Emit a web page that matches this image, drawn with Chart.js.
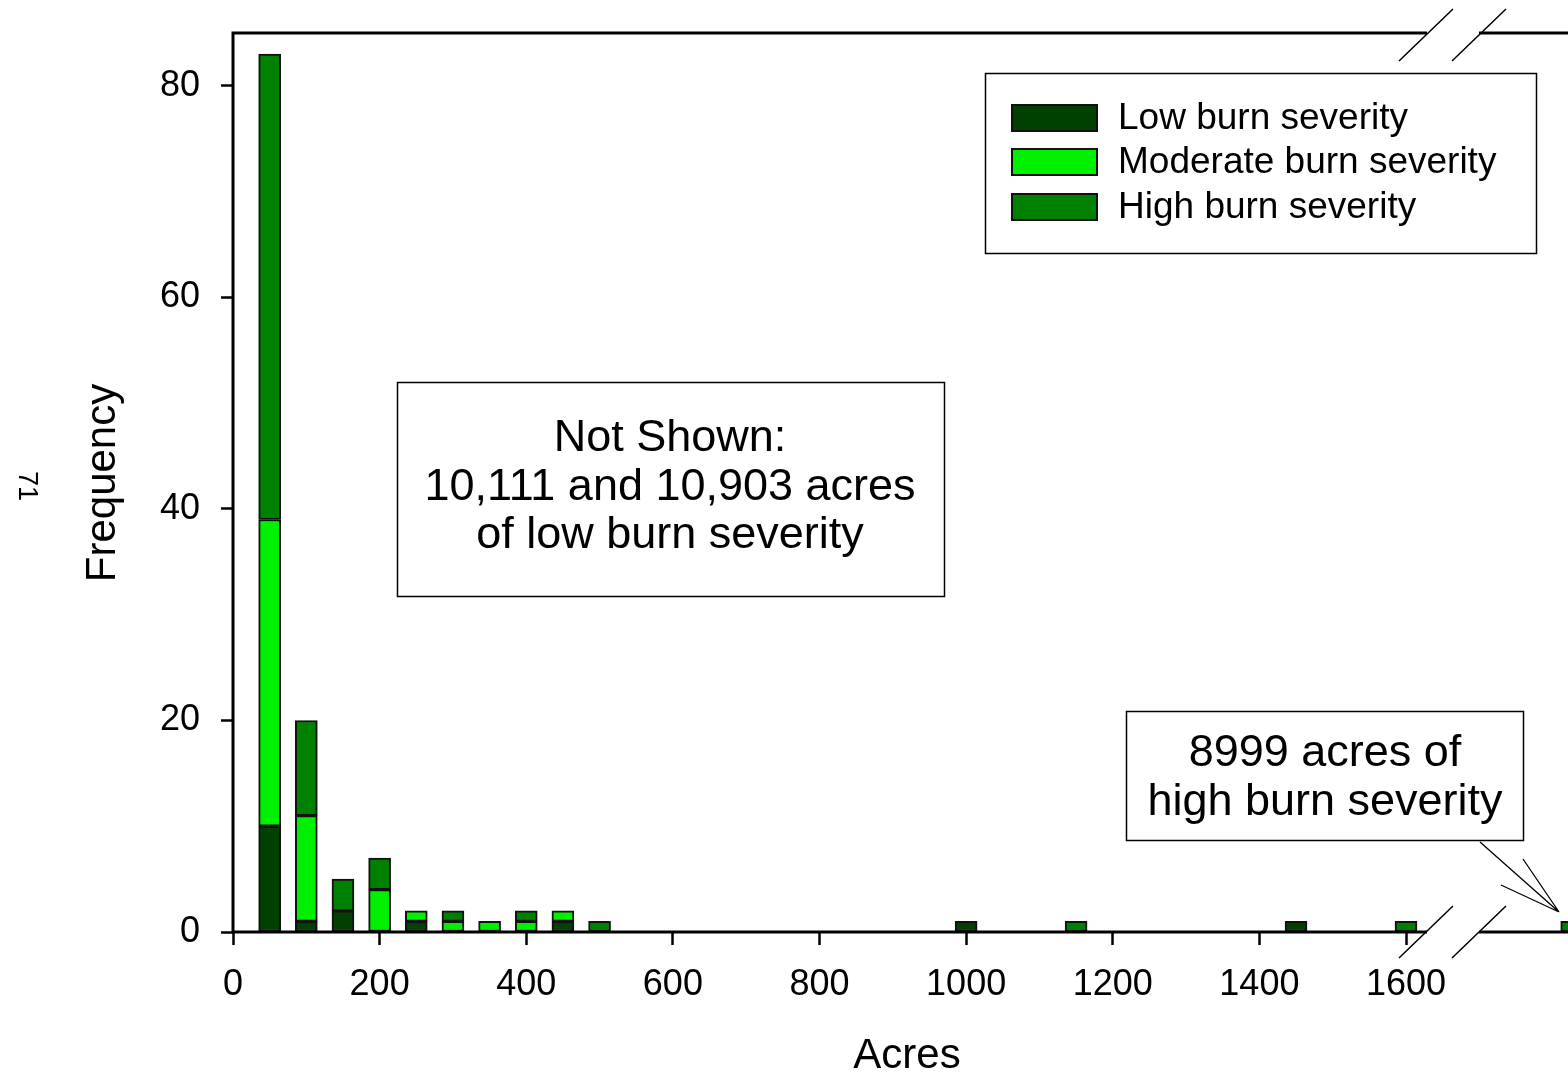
<!DOCTYPE html>
<html>
<head>
<meta charset="utf-8">
<script src="https://cdn.jsdelivr.net/npm/chart.js@4.4.1/dist/chart.umd.min.js"></script>
<style>
  html, body { margin: 0; padding: 0; background: #fff; overflow: hidden; }
  #wrap { width: 1600px; height: 1076px; }
</style>
</head>
<body>
<div id="wrap"><canvas id="burnChart"></canvas></div>
<script>
// bin centres (acres) and counts per severity class
const acreBins = [50, 100, 150, 200, 250, 300, 350, 400, 450, 500, 1000, 1150, 1450, 1600, 8999];
const lowCounts      = [10, 1, 2, 0, 1, 0, 0, 0, 1, 0, 1, 0, 1, 0, 0];
const moderateCounts = [29, 10, 0, 4, 1, 1, 1, 1, 1, 0, 0, 0, 0, 0, 0];
const highCounts     = [44, 9, 3, 3, 0, 1, 0, 1, 0, 1, 0, 1, 0, 1, 1];
const xTickValues = [0, 200, 400, 600, 800, 1000, 1200, 1400, 1600];
const yTickValues = [0, 20, 40, 60, 80];
const seriesNames = ["Low burn severity", "Moderate burn severity", "High burn severity"];
const seriesColors = ["#004000", "#00f000", "#008000"];
const notShownText = ["Not Shown:", "10,111 and 10,903 acres", "of low burn severity"];
const outlierText = ["8999 acres of", "high burn severity"];

// acres hidden by the axis break
const BREAK_GAP = 7173;
const axisPos = (a) => (a > 1700 ? a - BREAK_GAP : a);

const FONT = "'Liberation Sans', Arial, sans-serif";

const toPoints = (counts) =>
  acreBins.map((a, i) => ({ x: axisPos(a), y: counts[i] })).filter((p) => p.y > 0);

const makeDataset = (idx, counts) => ({
  label: seriesNames[idx],
  data: toPoints(counts),
  backgroundColor: seriesColors[idx],
  borderColor: "#111",
  borderWidth: 2,
  borderSkipped: false,
  barThickness: 22,
});

const decorations = {
  id: "decorations",
  afterDraw(chart) {
    const ctx = chart.ctx;
    const { left, top, right, bottom } = chart.chartArea;
    const gapA = 1427, gapB = 1479;
    ctx.save();
    ctx.strokeStyle = "#000";
    ctx.lineCap = "butt";

    // frame: left, top and bottom axis lines with break gap
    ctx.lineWidth = 3;
    ctx.beginPath();
    ctx.moveTo(left, top - 1.5); ctx.lineTo(left, bottom + 1.5);
    ctx.moveTo(left, top); ctx.lineTo(gapA, top);
    ctx.moveTo(gapB, top); ctx.lineTo(right, top);
    ctx.moveTo(left, bottom); ctx.lineTo(gapA, bottom);
    ctx.moveTo(gapB, bottom); ctx.lineTo(right, bottom);
    ctx.stroke();

    // break slashes
    ctx.lineWidth = 1.5;
    ctx.beginPath();
    [top + 2, bottom].forEach((y) => {
      [gapA - 1, gapB].forEach((cx) => {
        ctx.moveTo(cx - 27, y + 26);
        ctx.lineTo(cx + 27, y - 26);
      });
    });
    ctx.stroke();

    // legend box
    ctx.lineWidth = 1.5;
    ctx.strokeRect(985.5, 73.5, 551, 180);
    ctx.font = "37px " + FONT;
    ctx.textBaseline = "middle";
    ctx.textAlign = "left";
    [118, 162, 207].forEach((cy, i) => {
      ctx.fillStyle = seriesColors[i];
      ctx.fillRect(1012, cy - 13, 85, 26);
      ctx.lineWidth = 2;
      ctx.strokeStyle = "#111";
      ctx.strokeRect(1012, cy - 13, 85, 26);
      ctx.fillStyle = "#000";
      ctx.fillText(seriesNames[i], 1118, cy + 1);
    });

    // annotation boxes
    ctx.lineWidth = 1.5;
    ctx.strokeStyle = "#000";
    ctx.strokeRect(397.5, 382.5, 547, 214);
    ctx.strokeRect(1126.5, 711.5, 397, 129);
    ctx.font = "45px " + FONT;
    ctx.textAlign = "center";
    notShownText.forEach((t, i) => ctx.fillText(t, 670, 439 + i * 48.5));
    outlierText.forEach((t, i) => ctx.fillText(t, 1325, 754 + i * 49));

    // pointer lines to the outlier bar
    ctx.lineWidth = 1.3;
    ctx.beginPath();
    [[1480, 842], [1523, 859], [1501, 885]].forEach(([x, y]) => {
      ctx.moveTo(x, y); ctx.lineTo(1559, 912);
    });
    ctx.stroke();

    // axis titles
    ctx.font = "42px " + FONT;
    ctx.fillText("Acres", 907, 1056);
    ctx.save();
    ctx.translate(103, 483);
    ctx.rotate(-Math.PI / 2);
    ctx.fillText("Frequency", 0, 0);
    ctx.restore();

    // page number
    ctx.save();
    ctx.font = "27px " + FONT;
    ctx.translate(26, 486);
    ctx.rotate(Math.PI / 2);
    ctx.fillText("71", 0, 0);
    ctx.restore();

    ctx.restore();
  },
};

new Chart(document.getElementById("burnChart"), {
  type: "bar",
  data: {
    datasets: [
      makeDataset(0, lowCounts),
      makeDataset(1, moderateCounts),
      makeDataset(2, highCounts),
    ],
  },
  options: {
    responsive: true,
    maintainAspectRatio: false,
    animation: false,
    layout: { padding: { top: 33, left: 0, right: 0, bottom: 0 } },
    plugins: { legend: { display: false }, tooltip: { enabled: false } },
    scales: {
      x: {
        type: "linear",
        stacked: true,
        offset: false,
        min: 0,
        max: 1864.6,
        afterBuildTicks: (s) => { s.ticks = xTickValues.map((v) => ({ value: v })); },
        afterFit: (s) => { s.height = 144; s.paddingLeft = 0; s.paddingRight = 0; },
        border: { display: false },
        grid: {
          offset: false,
          drawOnChartArea: false,
          drawTicks: true,
          tickLength: 13,
          tickWidth: 2.5,
          tickColor: "#000",
        },
        ticks: {
          color: "#000",
          padding: 18,
          maxRotation: 0,
          font: { family: FONT, size: 36 },
          callback: (v) => String(v),
        },
      },
      y: {
        stacked: true,
        min: 0,
        max: 85,
        afterBuildTicks: (s) => { s.ticks = yTickValues.map((v) => ({ value: v })); },
        afterFit: (s) => { s.width = 233; s.paddingTop = 0; s.paddingBottom = 0; },
        border: { display: false },
        grid: {
          drawOnChartArea: false,
          drawTicks: true,
          tickLength: 12,
          tickWidth: 2.5,
          tickColor: "#000",
        },
        ticks: {
          color: "#000",
          padding: 21,
          font: { family: FONT, size: 36 },
        },
      },
    },
  },
  plugins: [decorations],
});
</script>
</body>
</html>
